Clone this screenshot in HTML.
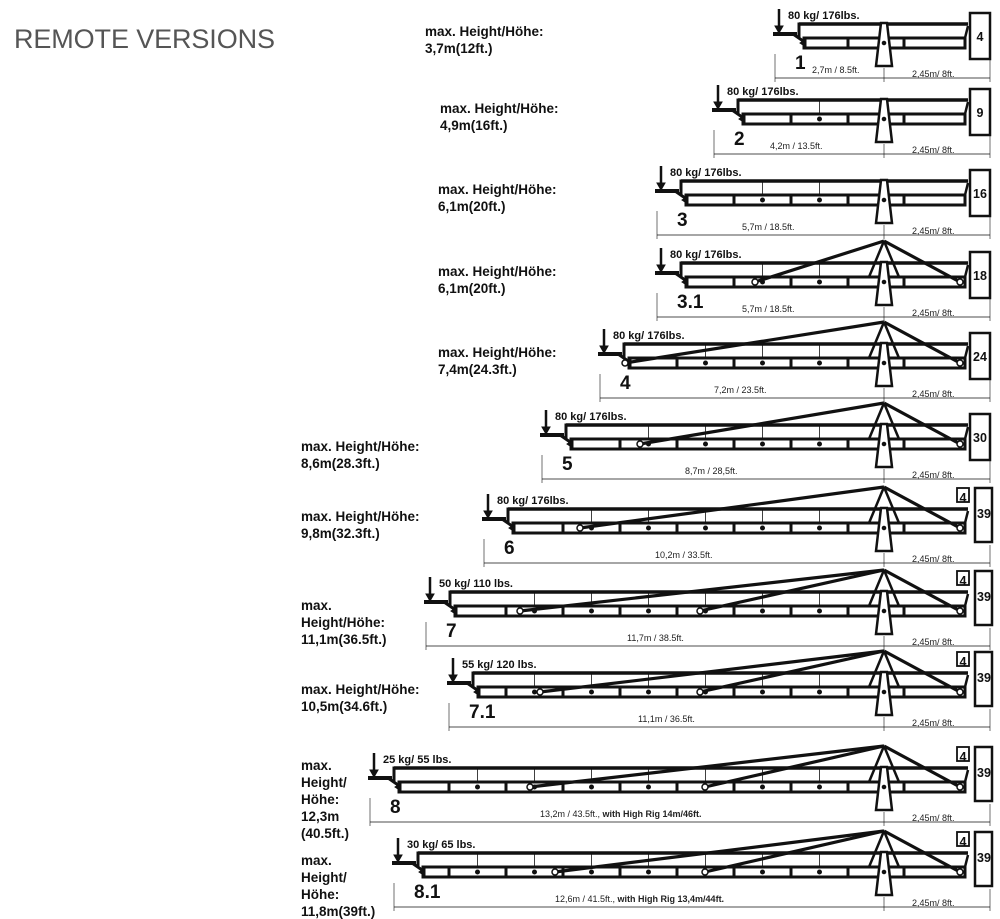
<!DOCTYPE html>
<html><head><meta charset="utf-8"><style>
html,body{margin:0;padding:0;background:#fff;}
svg{display:block;font-family:"Liberation Sans",Arial,sans-serif;}
.t{font-weight:bold;font-size:13.5px;fill:#111;}
.ld{font-weight:bold;font-size:11px;fill:#111;}
.n{font-weight:bold;font-size:19px;fill:#111;}
.d{font-size:9px;fill:#222;}
.b{font-weight:bold;font-size:12.5px;fill:#111;}
</style></head><body>
<svg id="s" width="1000" height="919" viewBox="0 0 1000 919" xmlns="http://www.w3.org/2000/svg">
<g id="g" stroke="#111" fill="none"></g>
<text x="14" y="48" font-size="27" fill="#555" textLength="261" style="font-weight:normal">REMOTE VERSIONS</text>
<g class="t">
<text x="425" y="36">max. Height/Höhe:</text><text x="425" y="53">3,7m(12ft.)</text>
<text x="440" y="113">max. Height/Höhe:</text><text x="440" y="130">4,9m(16ft.)</text>
<text x="438" y="194">max. Height/Höhe:</text><text x="438" y="211">6,1m(20ft.)</text>
<text x="438" y="276">max. Height/Höhe:</text><text x="438" y="293">6,1m(20ft.)</text>
<text x="438" y="357">max. Height/Höhe:</text><text x="438" y="374">7,4m(24.3ft.)</text>
<text x="301" y="451">max. Height/Höhe:</text><text x="301" y="468">8,6m(28.3ft.)</text>
<text x="301" y="521">max. Height/Höhe:</text><text x="301" y="538">9,8m(32.3ft.)</text>
<text x="301" y="610">max.</text><text x="301" y="627">Height/Höhe:</text><text x="301" y="644">11,1m(36.5ft.)</text>
<text x="301" y="694">max. Height/Höhe:</text><text x="301" y="711">10,5m(34.6ft.)</text>
<text x="301" y="770">max.</text><text x="301" y="787">Height/</text><text x="301" y="804">Höhe:</text><text x="301" y="821">12,3m</text><text x="301" y="838">(40.5ft.)</text>
<text x="301" y="865">max.</text><text x="301" y="882">Height/</text><text x="301" y="899">Höhe:</text><text x="301" y="916">11,8m(39ft.)</text>
</g>
<g class="ld">
<text x="788" y="19">80 kg/ 176lbs.</text>
<text x="727" y="95">80 kg/ 176lbs.</text>
<text x="670" y="176">80 kg/ 176lbs.</text>
<text x="670" y="258">80 kg/ 176lbs.</text>
<text x="613" y="339">80 kg/ 176lbs.</text>
<text x="555" y="420">80 kg/ 176lbs.</text>
<text x="497" y="504">80 kg/ 176lbs.</text>
<text x="439" y="587">50 kg/ 110 lbs.</text>
<text x="462" y="668">55 kg/ 120 lbs.</text>
<text x="383" y="763">25 kg/ 55 lbs.</text>
<text x="407" y="848">30 kg/ 65 lbs.</text>
</g>
<g class="n">
<text x="795" y="69">1</text>
<text x="734" y="145">2</text>
<text x="677" y="226">3</text>
<text x="677" y="308">3.1</text>
<text x="620" y="389">4</text>
<text x="562" y="470">5</text>
<text x="504" y="554">6</text>
<text x="446" y="637">7</text>
<text x="469" y="718">7.1</text>
<text x="390" y="813">8</text>
<text x="414" y="898">8.1</text>
</g>
<g class="d">
<text x="812" y="73">2,7m / 8.5ft.</text>
<text x="770" y="149">4,2m / 13.5ft.</text>
<text x="742" y="230">5,7m / 18.5ft.</text>
<text x="742" y="312">5,7m / 18.5ft.</text>
<text x="714" y="393">7,2m / 23.5ft.</text>
<text x="685" y="474">8,7m / 28,5ft.</text>
<text x="655" y="558">10,2m / 33.5ft.</text>
<text x="627" y="641">11,7m / 38.5ft.</text>
<text x="638" y="722">11,1m / 36.5ft.</text>
<text x="540" y="817">13,2m / 43.5ft., <tspan style="font-weight:bold">with High Rig 14m/46ft.</tspan></text>
<text x="555" y="902">12,6m / 41.5ft., <tspan style="font-weight:bold">with High Rig 13,4m/44ft.</tspan></text>
<text x="912" y="77">2,45m/ 8ft.</text>
<text x="912" y="153">2,45m/ 8ft.</text>
<text x="912" y="234">2,45m/ 8ft.</text>
<text x="912" y="316">2,45m/ 8ft.</text>
<text x="912" y="397">2,45m/ 8ft.</text>
<text x="912" y="478">2,45m/ 8ft.</text>
<text x="912" y="562">2,45m/ 8ft.</text>
<text x="912" y="645">2,45m/ 8ft.</text>
<text x="912" y="726">2,45m/ 8ft.</text>
<text x="912" y="821">2,45m/ 8ft.</text>
<text x="912" y="906">2,45m/ 8ft.</text>
</g>
<g class="b" text-anchor="middle">
<text x="980" y="41">4</text>
<text x="980" y="117">9</text>
<text x="980" y="198">16</text>
<text x="980" y="280">18</text>
<text x="980" y="361">24</text>
<text x="980" y="442">30</text>
<text x="963" y="502">4</text><text x="984" y="518">39</text>
<text x="963" y="585">4</text><text x="984" y="601">39</text>
<text x="963" y="666">4</text><text x="984" y="682">39</text>
<text x="963" y="761">4</text><text x="984" y="777">39</text>
<text x="963" y="846">4</text><text x="984" y="862">39</text>
</g>
</svg>
<script>
var rows=[[24,773,0,[]],[100,712,0,[]],[181,655,0,[]],[263,655,0,[755]],[344,598,0,[625]],[425,540,0,[640]],[509,482,1,[580]],[592,424,1,[520,700]],[673,447,1,[540,700]],[768,368,1,[530,705]],[853,392,1,[555,705]]];
var h='';
function L(a,b,c,d,w){h+='<line x1="'+a+'" y1="'+b+'" x2="'+c+'" y2="'+d+'" stroke-width="'+w+'"/>';}
function R(x,y,w,hh,sw){h+='<rect x="'+x+'" y="'+y+'" width="'+w+'" height="'+hh+'" stroke-width="'+sw+'" fill="#fff"/>';}
rows.forEach(function(r){
 var B=r[0],X=r[1],P=884,bx=X+26,tl=X+31,tr=965;
 L(X+2,B+54,P,B+54,0.7);L(P,B+54,990,B+54,0.7);
 L(X+2,B+30,X+2,B+58,0.6);L(P,B+44,P,B+58,0.6);L(990,B+36,990,B+58,0.6);
 L(X+6,B-15,X+6,B+6,2.5);h+='<polygon points="'+(X+2)+','+(B+2)+' '+(X+10)+','+(B+2)+' '+(X+6)+','+(B+9)+'" fill="#111"/>';
 L(X,B+10,X+24,B+10,4);L(X+20,B+10,tl+2,B+19,3);
 L(bx,B,968,B,3.5);L(bx,B-1.5,bx,B+14,3);
 R(tl,B+14,tr-tl,10,3);
 h+='<polygon points="'+(tl-4)+','+(B+19)+' '+(tl+2)+','+(B+15)+' '+(tl+2)+','+(B+23)+'" fill="#111"/>';
 var seg=57;
 for(var x=P-36;x>tl+20;x-=seg){L(x,B+14,x,B+24,3);
   var cx=x-seg/2; if(cx>tl+30){h+='<circle cx="'+cx+'" cy="'+(B+19)+'" r="2" fill="#111"/>';L(cx,B,cx,B+14,0.8);}}
 L(P+20,B+14,P+20,B+24,3);
 if(r[3].length){var ay=B-22;
  r[3].forEach(function(cx){L(P,ay,cx,B+19,3.2);h+='<circle cx="'+cx+'" cy="'+(B+19)+'" r="3" fill="#fff" stroke-width="1.5"/>';});
  L(P,ay,960,B+19,3.2);L(P,ay,P-15,B+14,2.5);L(P,ay,P+15,B+14,2.5);
  h+='<circle cx="960" cy="'+(B+19)+'" r="3" fill="#fff" stroke-width="1.5"/>';}
 h+='<polygon points="'+(P-3)+','+(B-1)+' '+(P+3)+','+(B-1)+' '+(P+8)+','+(B+42)+' '+(P-8)+','+(B+42)+'" fill="#fff" stroke-width="2.5"/>';
 h+='<circle cx="'+P+'" cy="'+(B+19)+'" r="1.8" fill="#111"/>';
 L(tr,B+14,968,B+2,2.5);
 if(r[2]){R(957,B-21,12,14,1.8);R(975,B-21,17,54,2.5);}
 else{R(970,B-11,20,46,2.5);}
});
document.getElementById('g').innerHTML=h;
</script>
</body></html>
